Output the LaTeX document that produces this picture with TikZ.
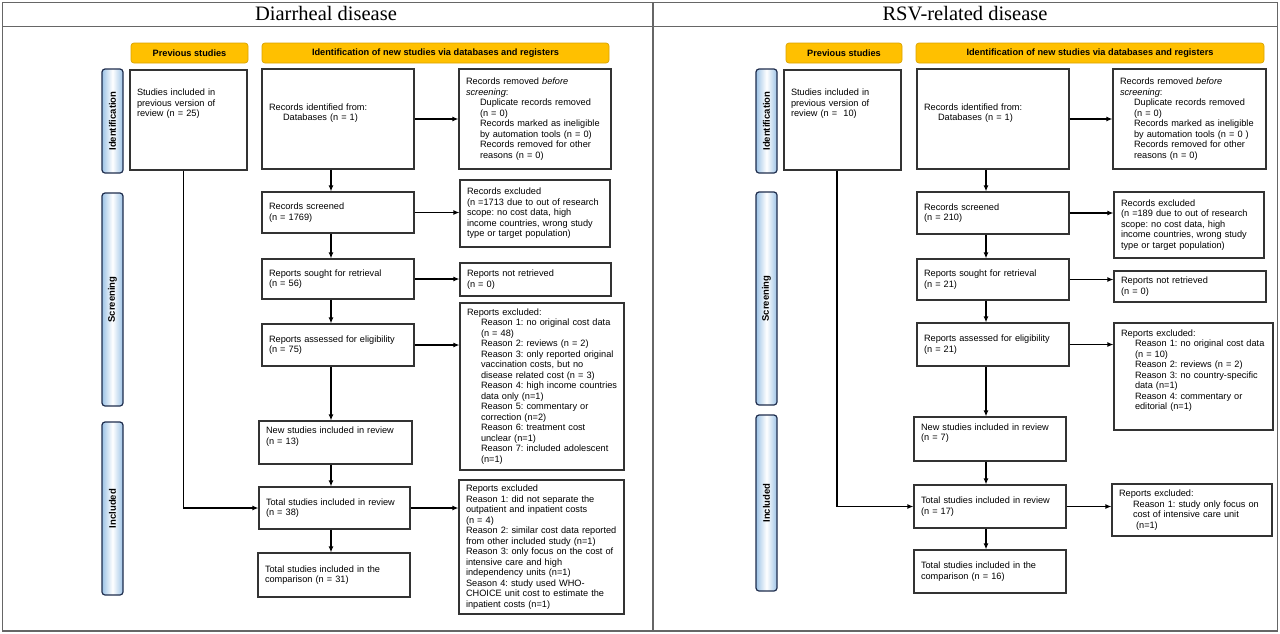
\documentclass[tikz,border=0pt]{standalone}
\usepackage{fontspec}
\setmainfont{Liberation Sans}
\newfontfamily\ttlfont{Liberation Serif}
\usepackage{graphicx}
\usetikzlibrary{arrows.meta}
\frenchspacing
\definecolor{hdrfill}{HTML}{FFC000}
\definecolor{hdrline}{HTML}{D9A200}
\definecolor{sideblue}{HTML}{9DC3E6}
\definecolor{sideline}{HTML}{1F2D4D}
\definecolor{framegray}{HTML}{666666}
\newcommand\ind{\hspace*{14pt}}
\newcommand\fs{\fontsize{9.2}{10.5}\selectfont}
\tikzset{
  box/.style={draw=black!80, line width=1.1pt, align=left, inner xsep=7pt, inner ysep=0pt, font=\fs,
    execute at begin node={\hyphenpenalty=10000\rightskip=0pt plus 1fil minus 20pt\relax}},
  hdr/.style={draw=hdrline, fill=hdrfill, rounded corners=3pt, line width=0.7pt, minimum height=20pt, inner sep=0pt, font=\fontsize{9.2}{11}\selectfont\bfseries},
  side/.style={draw=sideline, line width=1.2pt, rounded corners=3pt, minimum width=21pt, inner sep=0pt,
    left color=sideblue, right color=sideblue, middle color=white, font=\fontsize{9.5}{11}\selectfont\bfseries},
  ttl/.style={font=\ttlfont\fontsize{20.5}{22}\selectfont, inner sep=0pt},
  arr/.style={-{Latex[length=6pt,width=5pt]}, line width=1.2pt},
}
\begin{document}
\begin{tikzpicture}[x=1pt,y=-1pt]
  \useasboundingbox (0,0) rectangle (1280,633);
  \draw[draw=framegray,line width=1.4pt] (2.5,2.5) rectangle (1277.5,631) ;
  \draw[draw=framegray,line width=1.4pt] (2.5,26.5) -- (1277.5,26.5) ;
  \draw[draw=framegray,line width=1.4pt] (653,2.5) -- (653,631) ;

  \node[ttl] (dTitle) at (326,13.5) {Diarrheal disease};
  \node[ttl] (rTitle) at (965,13.5) {RSV-related disease};

  % diarrheal disease
  \node[hdr, minimum width=117pt] (dPrevHdr) at (189.5,53) {Previous studies};
  \node[hdr, minimum width=347pt] (dNewHdr) at (435.5,53) {Identification of new studies via databases and registers};
  \node[side, minimum height=104pt] (dSideId) at (112.5,121) {\rotatebox{90}{Identification}};
  \node[side, minimum height=213pt] (dSideScr) at (112.5,299.5) {\rotatebox{90}{Screening}};
  \node[side, minimum height=173pt] (dSideInc) at (112.5,508.5) {\rotatebox{90}{Included}};

  \node[box, text width=103pt, minimum height=100pt] (dPrev) at (188.5,120) {Studies included in\\ previous version of\\ review (n = 25)\\ \strut\\ \strut\\ \strut};
  \node[box, text width=138pt, minimum height=100pt] (dIdent) at (338,119) {Records identified from:\\ \ind Databases (n = 1)\\ \strut};
  \node[box, text width=138pt, minimum height=100pt] (dRemoved) at (535,119) {Records removed \emph{before}\\ \emph{screening}:\\ \ind Duplicate records removed\\ \ind (n = 0)\\ \ind Records marked as ineligible\\ \ind by automation tools (n = 0)\\ \ind Records removed for other\\ \ind reasons (n = 0)};
  \node[box, text width=138pt, minimum height=41pt] (dScreened) at (338,212.5) {Records screened\\ (n = 1769)};
  \node[box, text width=136pt, minimum height=67pt] (dExcl) at (535,213.5) {Records excluded\\ (n =1713 due to out of research\\ scope: no cost data, high\\ income countries, wrong study\\ type or target population)};
  \node[box, text width=138pt, minimum height=40pt] (dSought) at (338,279) {Reports sought for retrieval\\ (n = 56)};
  \node[box, text width=137pt, minimum height=33pt] (dNotRet) at (535.5,279.5) {Reports not retrieved\\ (n = 0)};
  \node[box, text width=138pt, minimum height=42pt] (dAssessed) at (338,345) {Reports assessed for eligibility\\ (n = 75)};
  \node[box, text width=150pt, minimum height=167pt] (dRepExcl) at (542,386.5) {Reports excluded:\\ \ind Reason 1: no original cost data\\ \ind (n = 48)\\ \ind Reason 2: reviews (n = 2)\\ \ind Reason 3: only reported original\\ \ind vaccination costs, but no\\ \ind disease related cost (n = 3)\\ \ind Reason 4: high income countries\\ \ind data only (n=1)\\ \ind Reason 5: commentary or\\ \ind correction (n=2)\\ \ind Reason 6: treatment cost\\ \ind unclear (n=1)\\ \ind Reason 7: included adolescent\\ \ind (n=1)};
  \node[box, text width=139pt, minimum height=43pt] (dNew) at (335.5,442.5) {New studies included in review\\ (n = 13)\\ \strut};
  \node[box, text width=137pt, minimum height=42pt] (dTotal) at (334.5,508) {Total studies included in review\\ (n = 38)};
  \node[box, text width=138pt, minimum height=44pt] (dComp) at (334,575) {Total studies included in the\\ comparison (n = 31)};
  \node[box, text width=151pt, minimum height=134pt] (dExcl2) at (541.5,547) {Reports excluded\\ Reason 1: did not separate the\\ outpatient and inpatient costs\\ (n = 4)\\ Reason 2: similar cost data reported\\ from other included study (n=1)\\ Reason 3: only focus on the cost of\\ intensive care and high\\ independency units (n=1)\\ Season 4: study used WHO-\\ CHOICE unit cost to estimate the\\ inpatient costs (n=1)};

  \coordinate (dSpine) at (331,0);
  \draw[arr] (dIdent.south -| dSpine) -- (dScreened.north -| dSpine);
  \draw[arr] (dScreened.south -| dSpine) -- (dSought.north -| dSpine);
  \draw[arr] (dSought.south -| dSpine) -- (dAssessed.north -| dSpine);
  \draw[arr] (dAssessed.south -| dSpine) -- (dNew.north -| dSpine);
  \draw[arr] (dNew.south -| dSpine) -- (dTotal.north -| dSpine);
  \draw[arr] (dTotal.south -| dSpine) -- (dComp.north -| dSpine);
  \draw[arr] (dIdent.east) -- (dIdent.east -| dRemoved.west);
  \draw[arr] (dScreened.east) -- (dScreened.east -| dExcl.west);
  \draw[arr] (dSought.east) -- (dSought.east -| dNotRet.west);
  \draw[arr] (dAssessed.east) -- (dAssessed.east -| dRepExcl.west);
  \draw[arr] (dTotal.east) -- (dTotal.east -| dExcl2.west);
  \draw[arr] ([xshift=-5pt]dPrev.south) |- (dTotal.west);

  % rsv-related disease
  \node[hdr, minimum width=116pt] (rPrevHdr) at (844,53) {Previous studies};
  \node[hdr, minimum width=348pt] (rNewHdr) at (1090,53) {Identification of new studies via databases and registers};
  \node[side, minimum height=104pt] (rSideId) at (766.5,121) {\rotatebox{90}{Identification}};
  \node[side, minimum height=213pt] (rSideScr) at (766.5,298.5) {\rotatebox{90}{Screening}};
  \node[side, minimum height=176pt] (rSideInc) at (766.5,503) {\rotatebox{90}{Included}};

  \node[box, text width=103pt, minimum height=100pt] (rPrev) at (842.5,120) {Studies included in\\ previous version of\\ review (n = \ 10)\\ \strut\\ \strut\\ \strut};
  \node[box, text width=138pt, minimum height=100pt] (rIdent) at (993,119) {Records identified from:\\ \ind Databases (n = 1)\\ \strut};
  \node[box, text width=139pt, minimum height=100pt] (rRemoved) at (1189.5,119) {Records removed \emph{before}\\ \emph{screening}:\\ \ind Duplicate records removed\\ \ind (n = 0)\\ \ind Records marked as ineligible\\ \ind by automation tools (n = 0 )\\ \ind Records removed for other\\ \ind reasons (n = 0)};
  \node[box, text width=138pt, minimum height=42pt] (rScreened) at (993,213) {Records screened\\ (n = 210)};
  \node[box, text width=136pt, minimum height=66pt] (rExcl) at (1189,225) {Records excluded\\ (n =189 due to out of research\\ scope: no cost data, high\\ income countries, wrong study\\ type or target population)};
  \node[box, text width=138pt, minimum height=41pt] (rSought) at (993,279.5) {Reports sought for retrieval\\ (n = 21)};
  \node[box, text width=138pt, minimum height=31pt] (rNotRet) at (1190,286.5) {Reports not retrieved\\ (n = 0)};
  \node[box, text width=138pt, minimum height=43pt] (rAssessed) at (993,344.5) {Reports assessed for eligibility\\ (n = 21)};
  \node[box, text width=145pt, minimum height=107pt] (rRepExcl) at (1193.5,376.5) {Reports excluded:\\ \ind Reason 1: no original cost data\\ \ind (n = 10)\\ \ind Reason 2: reviews (n = 2)\\ \ind Reason 3: no country-specific\\ \ind data (n=1)\\ \ind Reason 4: commentary or\\ \ind editorial (n=1)\\ \strut};
  \node[box, text width=138pt, minimum height=44pt] (rNew) at (990,439) {New studies included in review\\ (n = 7)\\ \strut};
  \node[box, text width=138pt, minimum height=43pt] (rTotal) at (990,506.5) {Total studies included in review\\ (n = 17)};
  \node[box, text width=138pt, minimum height=43pt] (rComp) at (990,571.5) {Total studies included in the\\ comparison (n = 16)};
  \node[box, text width=146pt, minimum height=52pt] (rExcl2) at (1192,510) {Reports excluded:\\ \ind Reason 1: study only focus on\\ \ind cost of intensive care unit\\ \ind\ (n=1)};

  \coordinate (rSpine) at (986,0);
  \draw[arr] (rIdent.south -| rSpine) -- (rScreened.north -| rSpine);
  \draw[arr] (rScreened.south -| rSpine) -- (rSought.north -| rSpine);
  \draw[arr] (rSought.south -| rSpine) -- (rAssessed.north -| rSpine);
  \draw[arr] (rAssessed.south -| rSpine) -- (rNew.north -| rSpine);
  \draw[arr] (rNew.south -| rSpine) -- (rTotal.north -| rSpine);
  \draw[arr] (rTotal.south -| rSpine) -- (rComp.north -| rSpine);
  \draw[arr] (rIdent.east) -- (rIdent.east -| rRemoved.west);
  \draw[arr] (rScreened.east) -- (rScreened.east -| rExcl.west);
  \draw[arr] (rSought.east) -- (rSought.east -| rNotRet.west);
  \draw[arr] (rAssessed.east) -- (rAssessed.east -| rRepExcl.west);
  \draw[arr] (rTotal.east) -- (rTotal.east -| rExcl2.west);
  \draw[arr] ([xshift=-5.5pt]rPrev.south) |- (rTotal.west);
\end{tikzpicture}
\end{document}
